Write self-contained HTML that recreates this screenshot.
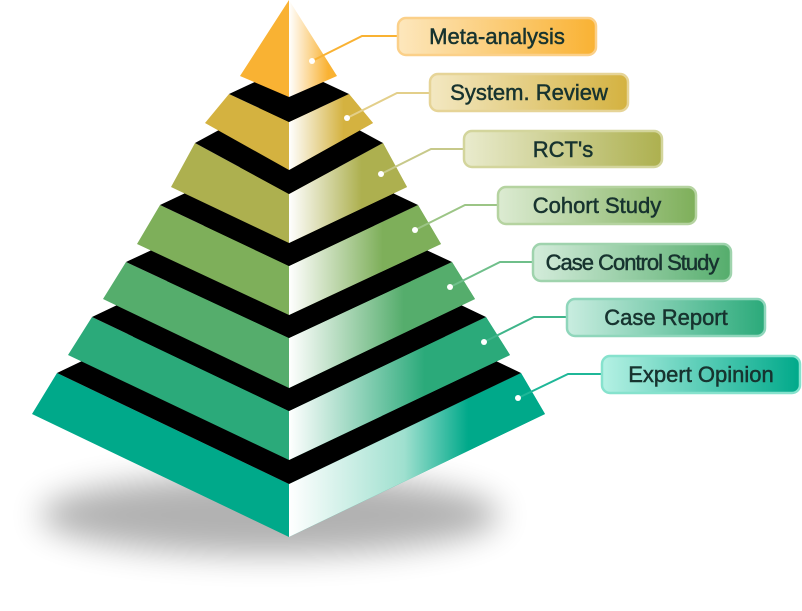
<!DOCTYPE html>
<html><head><meta charset="utf-8"><style>
html,body{margin:0;padding:0;background:#fff;width:802px;height:611px;overflow:hidden}
svg{display:block}
text{font-family:"Liberation Sans",sans-serif;fill:#17332f;stroke:#17332f;stroke-width:0.5}
</style></head><body>
<svg width="802" height="611" viewBox="0 0 802 611">
<defs>
<filter id="blur" x="-50%" y="-50%" width="200%" height="200%"><feGaussianBlur stdDeviation="16"/></filter>
<linearGradient id="g1" x1="289" x2="345" y1="0" y2="0" gradientUnits="userSpaceOnUse"><stop offset="0" stop-color="#fff"/><stop offset="0.7" stop-color="#F9B233"/><stop offset="1" stop-color="#F9B233"/></linearGradient>
<linearGradient id="g2" x1="289" x2="380" y1="0" y2="0" gradientUnits="userSpaceOnUse"><stop offset="0" stop-color="#fff"/><stop offset="0.6" stop-color="#D4B240"/><stop offset="1" stop-color="#D4B240"/></linearGradient>
<linearGradient id="g3" x1="289" x2="410" y1="0" y2="0" gradientUnits="userSpaceOnUse"><stop offset="0" stop-color="#fff"/><stop offset="0.6" stop-color="#ADB04F"/><stop offset="1" stop-color="#ADB04F"/></linearGradient>
<linearGradient id="g4" x1="289" x2="445" y1="0" y2="0" gradientUnits="userSpaceOnUse"><stop offset="0" stop-color="#fff"/><stop offset="0.6" stop-color="#7EAF5A"/><stop offset="1" stop-color="#7EAF5A"/></linearGradient>
<linearGradient id="g5" x1="289" x2="480" y1="0" y2="0" gradientUnits="userSpaceOnUse"><stop offset="0" stop-color="#fff"/><stop offset="0.6" stop-color="#55AD6C"/><stop offset="1" stop-color="#55AD6C"/></linearGradient>
<linearGradient id="g6" x1="289" x2="515" y1="0" y2="0" gradientUnits="userSpaceOnUse"><stop offset="0" stop-color="#fff"/><stop offset="0.6" stop-color="#2BAA7A"/><stop offset="1" stop-color="#2BAA7A"/></linearGradient>
<linearGradient id="g7" x1="289" x2="545" y1="0" y2="0" gradientUnits="userSpaceOnUse"><stop offset="0" stop-color="#fff"/><stop offset="0.45" stop-color="#9fe0cf"/><stop offset="0.7" stop-color="#00A98A"/><stop offset="1" stop-color="#00A98A"/></linearGradient>
<linearGradient id="l1" x1="0" x2="1"><stop offset="0" stop-color="#fde7bd"/><stop offset="1" stop-color="#F9B233"/></linearGradient>
<linearGradient id="l2" x1="0" x2="1"><stop offset="0" stop-color="#f3e8c2"/><stop offset="1" stop-color="#D4B240"/></linearGradient>
<linearGradient id="l3" x1="0" x2="1"><stop offset="0" stop-color="#e9ebcd"/><stop offset="1" stop-color="#ADB04F"/></linearGradient>
<linearGradient id="l4" x1="0" x2="1"><stop offset="0" stop-color="#dcebd2"/><stop offset="1" stop-color="#7EAF5A"/></linearGradient>
<linearGradient id="l5" x1="0" x2="1"><stop offset="0" stop-color="#d4ecdb"/><stop offset="1" stop-color="#55AD6C"/></linearGradient>
<linearGradient id="l6" x1="0" x2="1"><stop offset="0" stop-color="#c9ede0"/><stop offset="1" stop-color="#2BAA7A"/></linearGradient>
<linearGradient id="l7" x1="0" x2="1"><stop offset="0" stop-color="#b5f1e4"/><stop offset="1" stop-color="#00A98A"/></linearGradient>
</defs>
<ellipse cx="270" cy="515" rx="230" ry="40" fill="#000" opacity="0.3" filter="url(#blur)"/>

<polygon points="57,373 289,484 521,373 545,414 289,537 32,414" fill="#00A98A"/>
<polygon points="289,484 521,373 545,414 289,537" fill="url(#g7)"/>
<polygon points="57,373 289,262 521,373 289,484" fill="#000"/>
<polygon points="92,317 289,411 486,317 510,355 289,460 68,355" fill="#2BAA7A"/>
<polygon points="289,411 486,317 510,355 289,460" fill="url(#g6)"/>
<polygon points="92,317 289,223 486,317 289,411" fill="#000"/>
<polygon points="126,262 289,338 452,262 475,299 289,388 103,299" fill="#55AD6C"/>
<polygon points="289,338 452,262 475,299 289,388" fill="url(#g5)"/>
<polygon points="126,262 289,186 452,262 289,338" fill="#000"/>
<polygon points="160,205 289,266 418,205 441,244 289,315 137,244" fill="#7EAF5A"/>
<polygon points="289,266 418,205 441,244 289,315" fill="url(#g4)"/>
<polygon points="160,205 289,144 418,205 289,266" fill="#000"/>
<polygon points="195,143 289,194 383,143 407,187 289,243 171,187" fill="#ADB04F"/>
<polygon points="289,194 383,143 407,187 289,243" fill="url(#g3)"/>
<polygon points="195,143 289,92 383,143 289,194" fill="#000"/>
<polygon points="229,94 289,122 349,94 373,123 289,170 205,123" fill="#D4B240"/>
<polygon points="289,122 349,94 373,123 289,170" fill="url(#g2)"/>
<polygon points="229,94 289,66 349,94 289,122" fill="#000"/>
<polygon points="289,0 240,76 289,97" fill="#F9B233"/>
<polygon points="289,0 337,76 289,97" fill="url(#g1)"/>

<g fill="none" stroke-width="2">
<polyline points="312,61 362,36 397,36" stroke="#F9B233"/>
<polyline points="347,118 397,93 429,93" stroke="#e3cf8a"/>
<polyline points="381,174 431,149 463,149" stroke="#c7c98a"/>
<polyline points="415,230 465,205 497,205" stroke="#9cc586"/>
<polyline points="450,287 500,262 532,262" stroke="#6fbf8a"/>
<polyline points="484,342 534,317 566,317" stroke="#3fb58a"/>
<polyline points="518,398 568,374 601,374" stroke="#1fb798"/>
</g>
<g fill="#fff"><circle cx="312" cy="61" r="3"/><circle cx="347" cy="118" r="3"/><circle cx="381" cy="174" r="3"/><circle cx="415" cy="230" r="3"/><circle cx="450" cy="287" r="3"/><circle cx="484" cy="342" r="3"/><circle cx="518" cy="398" r="3"/></g>
<g stroke-width="2.5">
<rect x="398" y="18" width="198" height="37" rx="8" fill="url(#l1)" stroke="#fbd089"/>
<rect x="430" y="74" width="198" height="37" rx="8" fill="url(#l2)" stroke="#e6d497"/>
<rect x="464" y="131" width="198" height="36" rx="8" fill="url(#l3)" stroke="#d3d59c"/>
<rect x="498" y="187" width="198" height="37" rx="8" fill="url(#l4)" stroke="#b5d3a0"/>
<rect x="533" y="244" width="198" height="37" rx="8" fill="url(#l5)" stroke="#9fd3ad"/>
<rect x="567" y="299" width="198" height="37" rx="8" fill="url(#l6)" stroke="#8fd6bb"/>
<rect x="602" y="356" width="198" height="37" rx="8" fill="url(#l7)" stroke="#86e2cd"/>
</g>
<g font-size="22" text-anchor="middle">
<text x="497" y="44">Meta-analysis</text>
<text x="529" y="100">System. Review</text>
<text x="563" y="157">RCT's</text>
<text x="597" y="213">Cohort Study</text>
<text x="632" y="270" letter-spacing="-1">Case Control Study</text>
<text x="666" y="325">Case Report</text>
<text x="701" y="382">Expert Opinion</text>
</g>
</svg>
</body></html>
